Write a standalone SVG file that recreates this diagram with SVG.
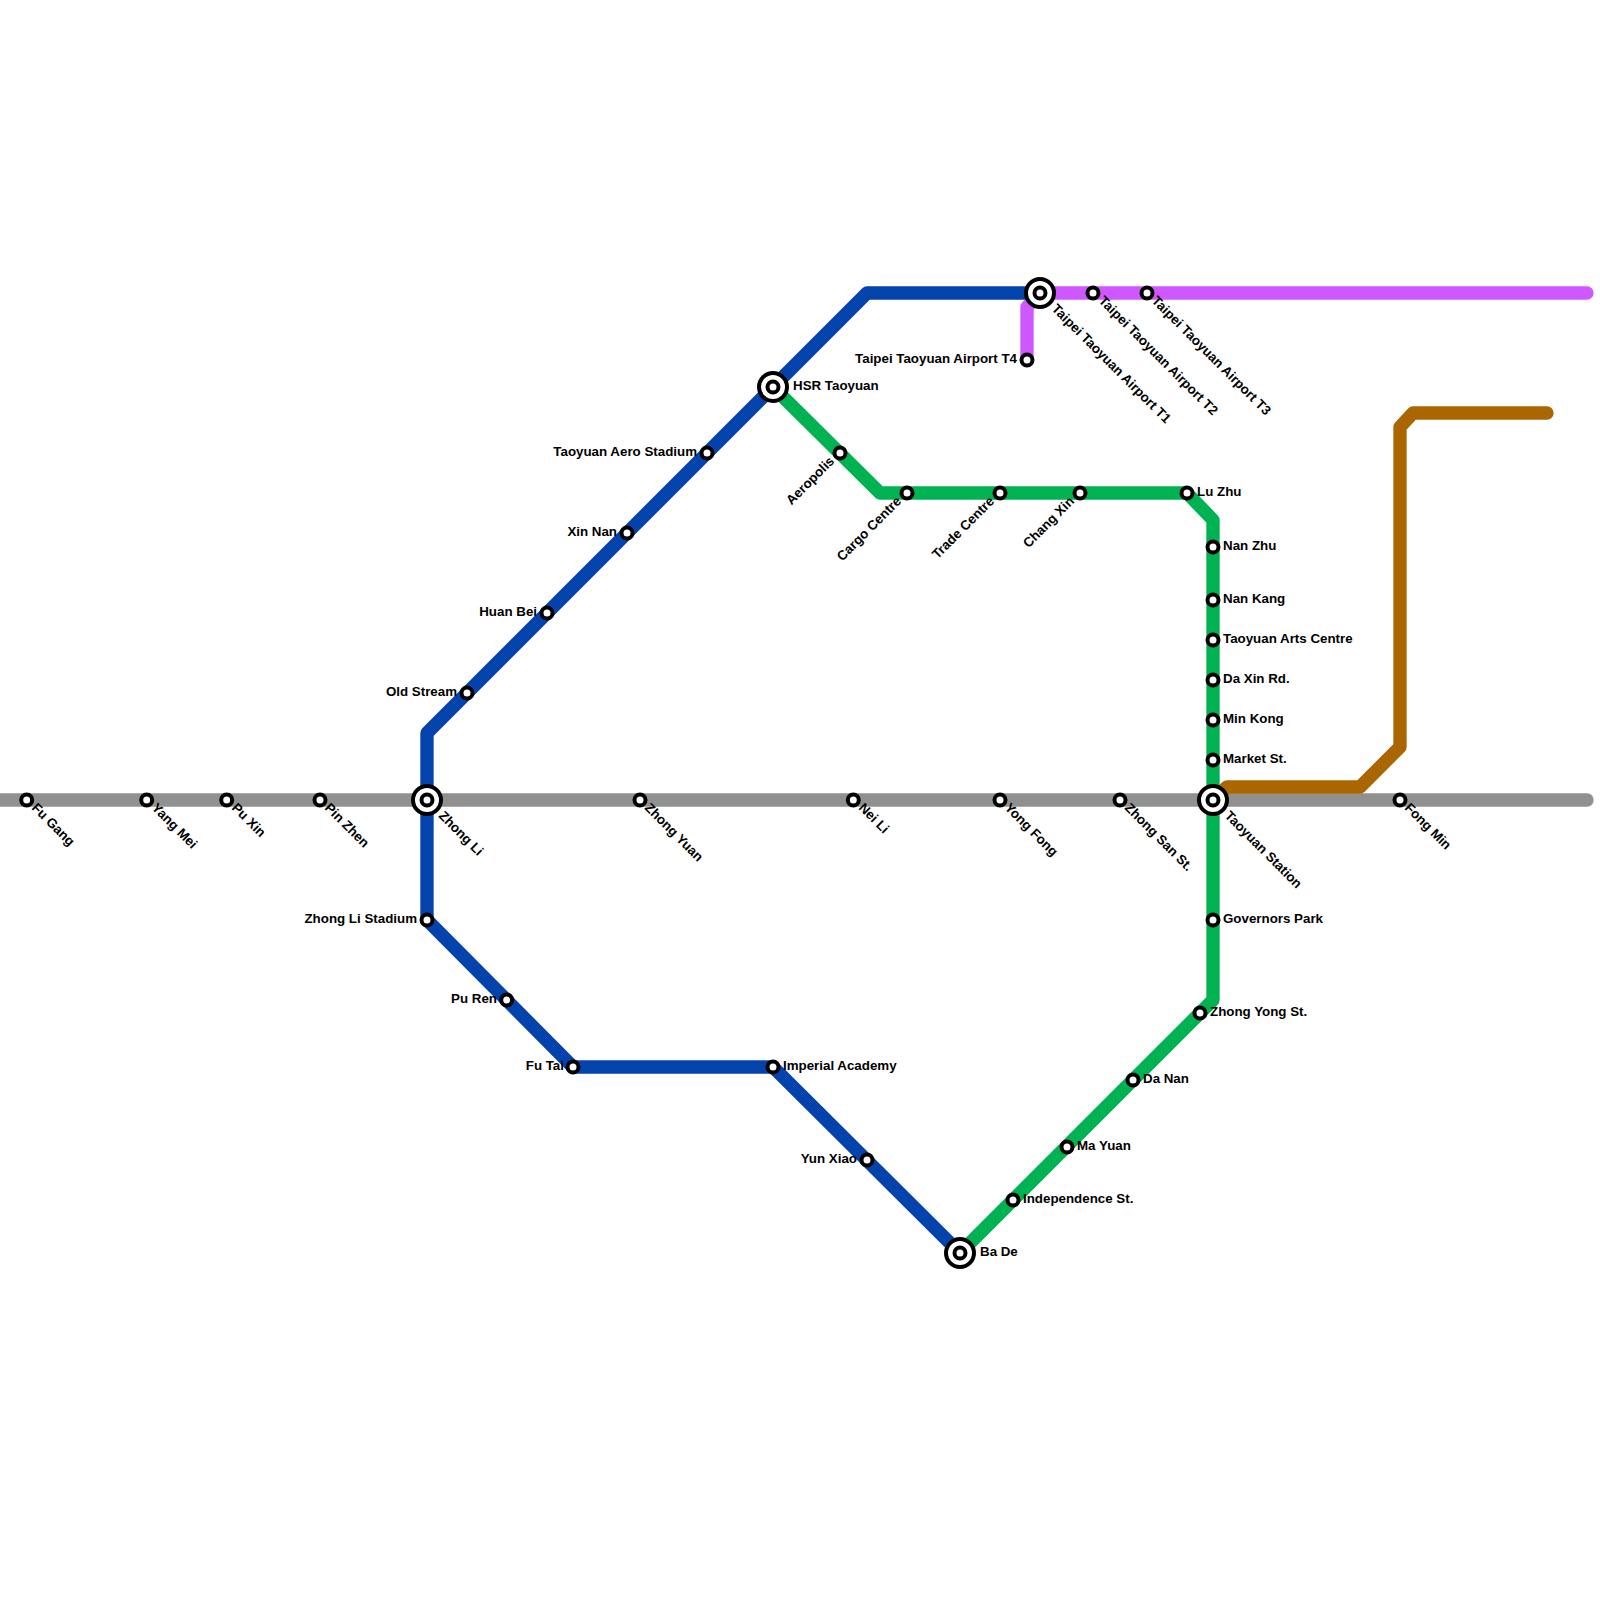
<svg xmlns="http://www.w3.org/2000/svg" width="1600" height="1600" viewBox="0 0 1600 1600">
<style>
.l{fill:none;stroke-width:13.33;stroke-linecap:round;stroke-linejoin:round}
.s{fill:#fff;stroke:#000;stroke-width:4}
text{font-family:"Liberation Sans",Arial,sans-serif;font-size:13.33px;font-weight:700;fill:#000}
.e{text-anchor:end}
</style>
<defs>
<g id="st"><circle class="s" r="5.5"/></g>
<g id="ic"><circle class="s" r="14"/><circle class="s" r="5.5"/></g>
</defs>
<rect width="1600" height="1600" fill="#fff"/>
<g id="connectors">
<path class="l" stroke="#909090" d="M-10 800H1587"/>
<path class="l" stroke="#cf57ff" d="M1027 360V307L1040 293H1587"/>
<path class="l" stroke="#00b251" d="M773 387L880 493H1187L1213 520V1000L960 1253"/>
<path class="l" stroke="#aa6600" d="M1213 800L1227 787H1360L1400 747V427L1413 413H1547"/>
<path class="l" stroke="#0343ab" d="M1040 293H867L427 733V920L573 1067H773L960 1253"/>
</g>
<g id="n1"><use href="#st" x="26.7" y="800"/><text transform="translate(31 808.5) rotate(45)">Fu Gang</text></g>
<g id="n2"><use href="#st" x="146.7" y="800"/><text transform="translate(151 808.5) rotate(45)">Yang Mei</text></g>
<g id="n3"><use href="#st" x="226.7" y="800"/><text transform="translate(231 808.5) rotate(45)">Pu Xin</text></g>
<g id="n4"><use href="#st" x="320" y="800"/><text transform="translate(324 808.5) rotate(45)">Pin Zhen</text></g>
<g id="n5"><use href="#ic" x="427" y="800"/><text transform="translate(438 816.5) rotate(45)">Zhong Li</text></g>
<g id="n6"><use href="#st" x="640" y="800"/><text transform="translate(644 808.5) rotate(45)">Zhong Yuan</text></g>
<g id="n7"><use href="#st" x="853.3" y="800"/><text transform="translate(858 808.5) rotate(45)">Nei Li</text></g>
<g id="n8"><use href="#st" x="1000" y="800"/><text transform="translate(1004 808.5) rotate(45)">Yong Fong</text></g>
<g id="n9"><use href="#st" x="1120" y="800"/><text transform="translate(1124 808.5) rotate(45)">Zhong San St.</text></g>
<g id="n10"><use href="#ic" x="1213" y="800"/><text transform="translate(1224 816.5) rotate(45)">Taoyuan Station</text></g>
<g id="n11"><use href="#st" x="1400" y="800"/><text transform="translate(1404 808.5) rotate(45)">Fong Min</text></g>
<g id="n12"><use href="#st" x="427" y="920"/><text class="e" x="417" y="922.5">Zhong Li Stadium</text></g>
<g id="n13"><use href="#st" x="506.7" y="1000"/><text class="e" x="497" y="1002.5">Pu Ren</text></g>
<g id="n14"><use href="#st" x="573" y="1067"/><text class="e" x="564" y="1069.5">Fu Tai</text></g>
<g id="n15"><use href="#st" x="773" y="1067"/><text x="783" y="1069.5">Imperial Academy</text></g>
<g id="n16"><use href="#st" x="867" y="1160"/><text class="e" x="857" y="1162.5">Yun Xiao</text></g>
<g id="n17"><use href="#ic" x="960" y="1253"/><text x="980" y="1255.5">Ba De</text></g>
<g id="n18"><use href="#st" x="1013" y="1200"/><text x="1023" y="1202.5">Independence St.</text></g>
<g id="n19"><use href="#st" x="1067" y="1147"/><text x="1077" y="1149.5">Ma Yuan</text></g>
<g id="n20"><use href="#st" x="1133" y="1080"/><text x="1143" y="1082.5">Da Nan</text></g>
<g id="n21"><use href="#st" x="1200" y="1013"/><text x="1210" y="1015.5">Zhong Yong St.</text></g>
<g id="n22"><use href="#st" x="1213" y="920"/><text x="1223" y="922.5">Governors Park</text></g>
<g id="n23"><use href="#st" x="1213" y="760"/><text x="1223" y="762.5">Market St.</text></g>
<g id="n24"><use href="#st" x="1213" y="720"/><text x="1223" y="722.5">Min Kong</text></g>
<g id="n25"><use href="#st" x="1213" y="680"/><text x="1223" y="682.5">Da Xin Rd.</text></g>
<g id="n26"><use href="#st" x="1213" y="640"/><text x="1223" y="642.5">Taoyuan Arts Centre</text></g>
<g id="n27"><use href="#st" x="1213" y="600"/><text x="1223" y="602.5">Nan Kang</text></g>
<g id="n28"><use href="#st" x="1213" y="547"/><text x="1223" y="549.5">Nan Zhu</text></g>
<g id="n29"><use href="#st" x="1187" y="493"/><text x="1197" y="495.5">Lu Zhu</text></g>
<g id="n30"><use href="#st" x="1080" y="493"/><text class="e" transform="translate(1075 502) rotate(-45)">Chang Xin</text></g>
<g id="n31"><use href="#st" x="1000" y="493"/><text class="e" transform="translate(995 502) rotate(-45)">Trade Centre</text></g>
<g id="n32"><use href="#st" x="907" y="493"/><text class="e" transform="translate(902 502) rotate(-45)">Cargo Centre</text></g>
<g id="n33"><use href="#st" x="840" y="453"/><text class="e" transform="translate(835 462) rotate(-45)">Aeropolis</text></g>
<g id="n34"><use href="#ic" x="773" y="387"/><text x="793" y="389.5">HSR Taoyuan</text></g>
<g id="n35"><use href="#ic" x="1040" y="293"/><text transform="translate(1051 309.5) rotate(45)">Taipei Taoyuan Airport T1</text></g>
<g id="n36"><use href="#st" x="1093" y="293"/><text transform="translate(1098 301.5) rotate(45)">Taipei Taoyuan Airport T2</text></g>
<g id="n37"><use href="#st" x="1147" y="293"/><text transform="translate(1151 301.5) rotate(45)">Taipei Taoyuan Airport T3</text></g>
<g id="n38"><use href="#st" x="1027" y="360"/><text class="e" x="1017" y="362.5">Taipei Taoyuan Airport T4</text></g>
<g id="n39"><use href="#st" x="707" y="453"/><text class="e" x="697" y="455.5">Taoyuan Aero Stadium</text></g>
<g id="n40"><use href="#st" x="627" y="533"/><text class="e" x="617" y="535.5">Xin Nan</text></g>
<g id="n41"><use href="#st" x="547" y="613"/><text class="e" x="537" y="615.5">Huan Bei</text></g>
<g id="n42"><use href="#st" x="467" y="693"/><text class="e" x="457" y="695.5">Old Stream</text></g>
</svg>
